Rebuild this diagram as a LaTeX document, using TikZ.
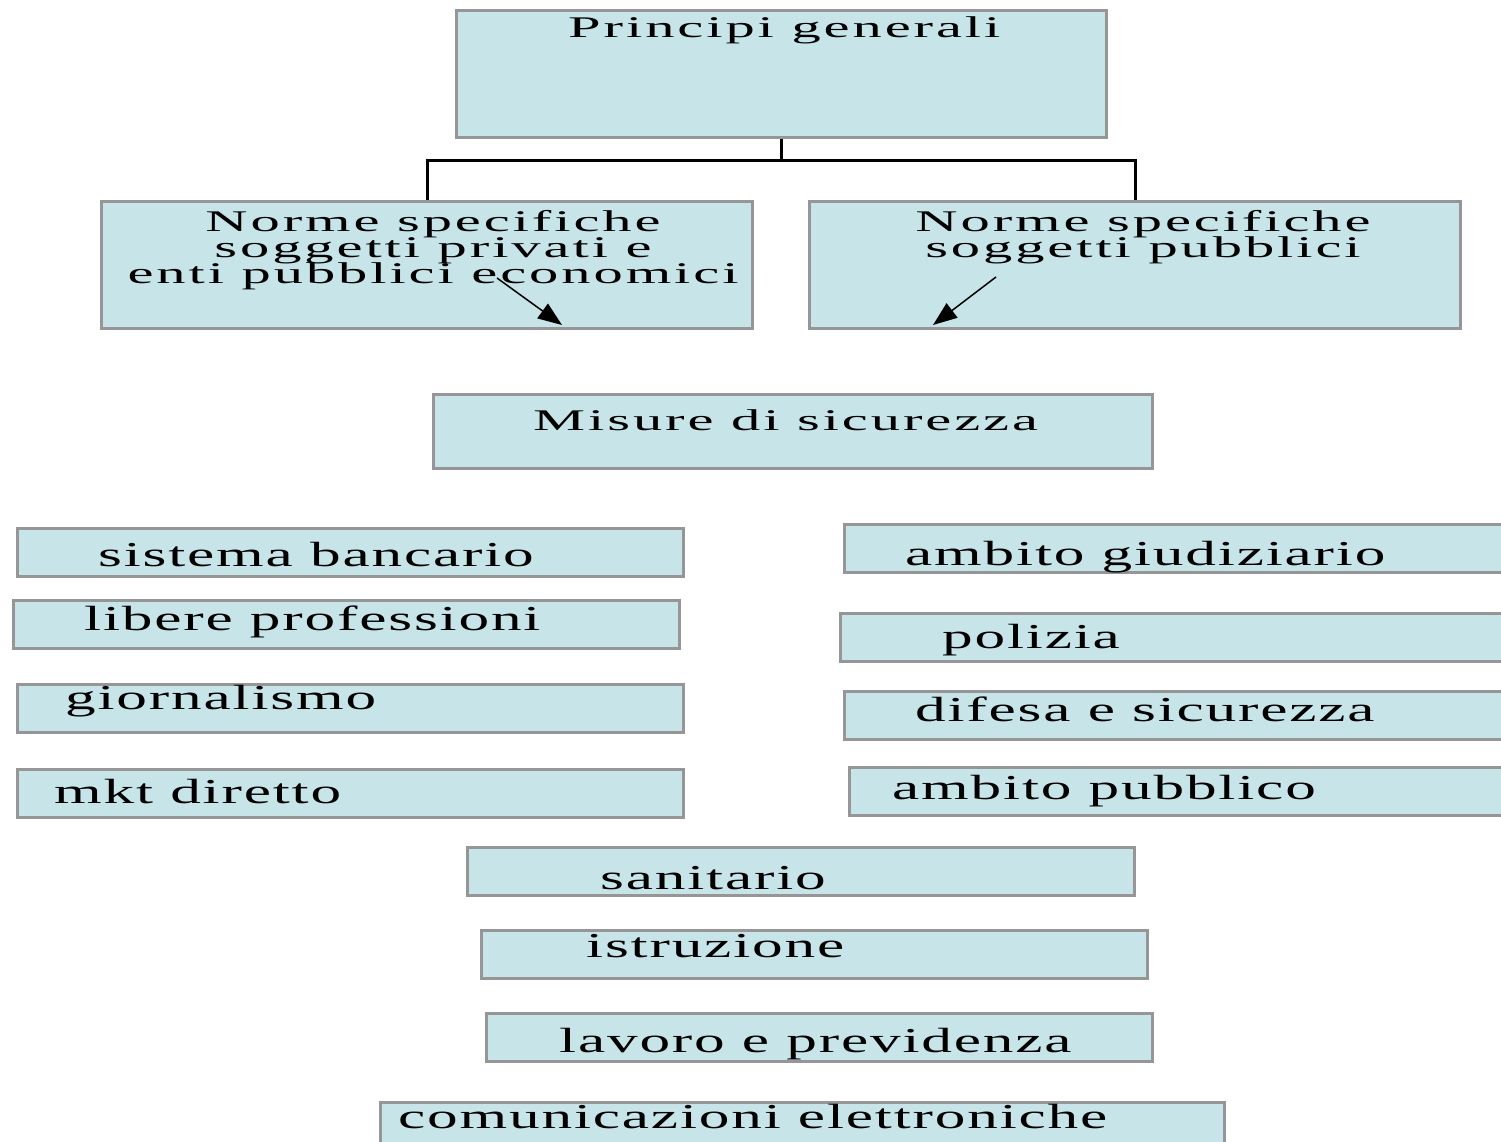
\documentclass[tikz,border=0pt]{standalone}
\usepackage{graphicx}
\usepackage{fontspec}
\newfontfamily\headfont[LetterSpace=5]{Liberation Serif}
\newfontfamily\itemfont[LetterSpace=3]{Liberation Serif}
\usetikzlibrary{arrows.meta}
\definecolor{boxfill}{RGB}{199,229,233}
\definecolor{boxline}{RGB}{150,150,150}
\newcommand{\wide}[2][1.75]{\scalebox{#1}[1]{#2}}
\newcommand{\headsize}{\headfont\fontsize{30}{26}\selectfont\setlength{\lineskiplimit}{-50pt}}
\newcommand{\itemsize}{\itemfont\fontsize{35}{38}\selectfont}
\tikzset{
  card/.style={draw=boxline, line width=3pt, fill=boxfill, anchor=north west, inner sep=0pt},
  head/.style={font=\headsize, inner sep=0pt, anchor=base west},
  item/.style={font=\itemsize, inner sep=0pt, anchor=base west},
  link/.style={draw=black, line width=3pt},
  pointer/.style={draw=black, line width=1.5pt, -{Triangle[length=24pt,width=18pt]}}
}
\begin{document}
\begin{tikzpicture}[x=1pt, y=-1pt]
\path[use as bounding box, clip] (0,0) rectangle (1501,1142);
\node[card, minimum width=650pt, minimum height=127pt] (princ) at (455,9) {};
\node[card, minimum width=651pt, minimum height=127pt] (priv) at (100,200) {};
\node[card, minimum width=651pt, minimum height=127pt] (pubb) at (808,200) {};
\draw[link] (princ.south) -- ++(0,22) -| (priv.north);
\draw[link] (princ.south) -- ++(0,22) -| (pubb.north);
\node[head] (princtxt) at (568,38) {\wide[1.95]{Principi generali}};
\node[head, align=center, anchor=north] (privtxt) at (433,210) {\wide[1.95]{Norme specifiche}\\\wide[1.95]{soggetti privati e}\\\wide[1.95]{enti pubblici economici}};
\node[head, align=center, anchor=north] (pubbtxt) at (1143,210) {\wide[1.95]{Norme specifiche}\\\wide[1.95]{soggetti pubblici}};
\coordinate (privfrom) at (497,278);
\coordinate (privto) at (562,325);
\coordinate (pubbfrom) at (996,277);
\coordinate (pubbto) at (933,325);
\draw[pointer] (privfrom) -- (privto);
\draw[pointer] (pubbfrom) -- (pubbto);
\node[card, minimum width=719pt, minimum height=74pt] (misure) at (432,393) {};
\node[head] (misuretxt) at (533,430) {\wide[1.95]{Misure di sicurezza}};
\node[card, minimum width=666pt, minimum height=48pt] (banca) at (16,527) {};
\node[item] (bancatxt) at (98,566) {\wide{sistema bancario}};
\node[card, minimum width=666pt, minimum height=48pt] (prof) at (12,599) {};
\node[item] (proftxt) at (84,630) {\wide{libere professioni}};
\node[card, minimum width=666pt, minimum height=48pt] (giorn) at (16,683) {};
\node[item] (giorntxt) at (65,709) {\wide{giornalismo}};
\node[card, minimum width=666pt, minimum height=48pt] (mkt) at (16,768) {};
\node[item] (mkttxt) at (54,803) {\wide{mkt diretto}};
\node[card, minimum width=666pt, minimum height=48pt] (giud) at (843,523) {};
\node[item] (giudtxt) at (905,565) {\wide{ambito giudiziario}};
\node[card, minimum width=666pt, minimum height=48pt] (pol) at (839,612) {};
\node[item] (poltxt) at (942,648) {\wide{polizia}};
\node[card, minimum width=666pt, minimum height=48pt] (dif) at (843,690) {};
\node[item] (diftxt) at (915,721) {\wide{difesa e sicurezza}};
\node[card, minimum width=666pt, minimum height=48pt] (pubbl) at (848,766) {};
\node[item] (pubbltxt) at (892,799) {\wide{ambito pubblico}};
\node[card, minimum width=667pt, minimum height=48pt] (san) at (466,846) {};
\node[item] (santxt) at (600,889) {\wide{sanitario}};
\node[card, minimum width=666pt, minimum height=48pt] (istr) at (480,929) {};
\node[item] (istrtxt) at (586,957) {\wide{istruzione}};
\node[card, minimum width=666pt, minimum height=48pt] (lav) at (485,1012) {};
\node[item] (lavtxt) at (559,1052) {\wide{lavoro e previdenza}};
\node[card, minimum width=844pt, minimum height=48pt] (com) at (379,1101) {};
\node[item] (comtxt) at (398,1128) {\wide{comunicazioni elettroniche}};
\end{tikzpicture}
\end{document}
